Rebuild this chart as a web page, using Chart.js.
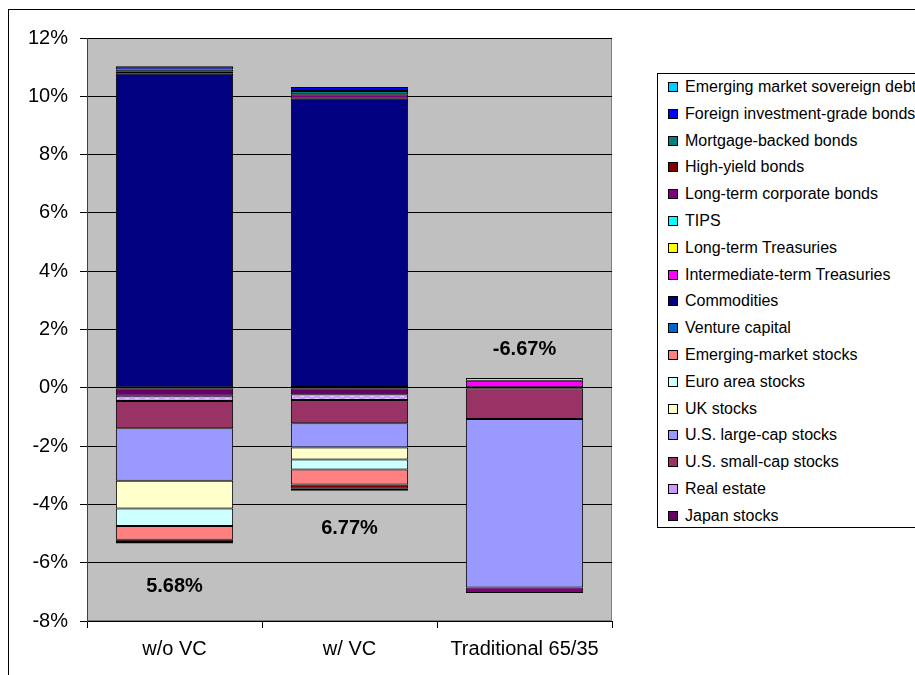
<!DOCTYPE html>
<html>
<head>
<meta charset="utf-8">
<script src="https://cdn.jsdelivr.net/npm/chart.js@4.4.1/dist/chart.umd.min.js"></script>
<style>
  html, body { margin: 0; padding: 0; background: #fff; overflow: hidden; }
  #wrap { position: relative; width: 915px; height: 675px; overflow: hidden; font-family: "Liberation Sans", Arial, sans-serif; }
  #frame { position: absolute; left: 8px; top: 9px; width: 1000px; height: 700px; border-left: 1px solid #000; border-top: 1px solid #000; }
  canvas { position: absolute; left: 0; top: 0; }
  #legend { position: absolute; left: 657px; top: 73px; width: 300px; height: 453px; border: 1px solid #000; background: #fff; }
  .item { position: absolute; left: 0; height: 20px; font-size: 16px; line-height: 20px; color: #000; white-space: nowrap; }
  .sw { position: absolute; left: 10px; top: 5px; width: 8px; height: 8px; border: 1px solid #000; }
  .txt { position: absolute; left: 27px; top: 0; }
</style>
</head>
<body>
<div id="wrap">
  <div id="frame"></div>
  <canvas id="chart" width="915" height="675"></canvas>
  <div id="legend"></div>
</div>
<script>
// categories and series (Excel series order, first = bottom of stack)
const categories = ["w/o VC", "w/ VC", "Traditional 65/35"];

const seriesNames = [
  "Japan stocks", "Real estate", "U.S. small-cap stocks", "U.S. large-cap stocks",
  "UK stocks", "Euro area stocks", "Emerging-market stocks", "Venture capital",
  "Commodities", "Intermediate-term Treasuries", "Long-term Treasuries", "TIPS",
  "Long-term corporate bonds", "High-yield bonds", "Mortgage-backed bonds",
  "Foreign investment-grade bonds", "Emerging market sovereign debt"
];

// values in %, per category
const japanStocks = [-0.27, -0.22, null];
const realEstate = [-0.18, -0.20, null];
const usSmallCap = [-0.94, -0.80, -1.07];
const usLargeCap = [-1.80, -0.83, -5.78];
const ukStocks = [-0.95, -0.41, null];
const euroStocks = [-0.60, -0.34, null];
const emStocks = [-0.47, -0.52, null];
const ventureCapital = [null, 0.03, null];
const commodities = [10.77, 9.89, null];
const intTreasuries = [null, null, 0.24];
const ltTreasuries = [null, null, 0.10];
const tips = [null, null, null];
const ltCorporate = [0.07, 0.15, -0.19];
const highYield = [-0.08, -0.14, null];
const mortgageBacked = [0.08, 0.11, null];
const foreignIG = [0.11, 0.14, null];
const emSovereign = [-0.05, -0.07, null];

const yTicks = [-8, -6, -4, -2, 0, 2, 4, 6, 8, 10, 12];

// text written on the plot, anchored at a value on the y scale
const noteTexts = ["5.68%", "6.77%", "-6.67%"];
const noteValues = [-6.81, -4.82, 1.33];

const seriesValues = [
  japanStocks, realEstate, usSmallCap, usLargeCap, ukStocks, euroStocks, emStocks,
  ventureCapital, commodities, intTreasuries, ltTreasuries, tips, ltCorporate,
  highYield, mortgageBacked, foreignIG, emSovereign
];

const seriesColors = [
  "#660066", "#CC99FF", "#993366", "#9999FF", "#FFFFCC", "#CCFFFF", "#FF8080",
  "#0066CC", "#000080", "#FF00FF", "#FFFF00", "#00FFFF", "#800080", "#800000",
  "#008080", "#0000FF", "#00CCFF"
];

function makePattern(base, dot, w, h, drawDot) {
  const c = document.createElement("canvas");
  c.width = w; c.height = h;
  const g = c.getContext("2d");
  g.fillStyle = base;
  g.fillRect(0, 0, w, h);
  g.fillStyle = dot;
  drawDot(g);
  return document.getElementById("chart").getContext("2d").createPattern(c, "repeat");
}

const japanPattern = makePattern("#660066", "#F0E0F0", 15, 8, g => g.fillRect(7, 3, 2, 2));
const realEstatePattern = makePattern("#CC99FF", "#E6CCFF", 10, 4, g => { g.fillRect(0, 0, 4, 1); g.fillRect(5, 2, 4, 1); });

const fills = seriesColors.slice();
fills[0] = japanPattern;
fills[1] = realEstatePattern;

const datasets = seriesNames.map((name, i) => ({
  label: name,
  data: seriesValues[i],
  backgroundColor: fills[i],
  borderColor: "#000",
  borderWidth: 1,
  borderSkipped: false,
  barPercentage: 0.67,
  categoryPercentage: 1
}));

// legend, top of stack first like Excel
const legend = document.getElementById("legend");
for (let k = 0; k < seriesNames.length; k++) {
  const i = seriesNames.length - 1 - k;
  const item = document.createElement("div");
  item.className = "item";
  item.style.top = (3 + k * 26.8) + "px";
  item.innerHTML = '<span class="sw" style="background:' + seriesColors[i] + '"></span><span class="txt">' + seriesNames[i] + '</span>';
  legend.appendChild(item);
}

const plotBack = {
  id: "plotBack",
  beforeDraw(chart) {
    const { ctx, chartArea: a } = chart;
    ctx.save();
    ctx.fillStyle = "#C0C0C0";
    ctx.fillRect(a.left, a.top, a.right - a.left, a.bottom - a.top);
    ctx.strokeStyle = "#808080";
    ctx.lineWidth = 1;
    ctx.strokeRect(a.left + 0.5, a.top + 0.5, a.right - a.left - 1, a.bottom - a.top - 1);
    ctx.restore();
  }
};

const notes = {
  id: "notes",
  afterDatasetsDraw(chart) {
    const { ctx, scales } = chart;
    ctx.save();
    ctx.font = "bold 20px 'Liberation Sans', Arial, sans-serif";
    ctx.fillStyle = "#000";
    ctx.textAlign = "center";
    ctx.textBaseline = "middle";
    noteTexts.forEach((t, i) => {
      ctx.fillText(t, scales.x.getPixelForValue(i), scales.y.getPixelForValue(noteValues[i]));
    });
    ctx.restore();
  }
};

Chart.defaults.font.family = "'Liberation Sans', Arial, sans-serif";
Chart.defaults.color = "#000";

new Chart(document.getElementById("chart"), {
  type: "bar",
  data: { labels: categories, datasets: datasets },
  options: {
    responsive: false,
    animation: false,
    devicePixelRatio: 1,
    layout: { padding: { left: 0, top: 38, right: 303, bottom: 0 } },
    plugins: { legend: { display: false }, tooltip: { enabled: false } },
    scales: {
      x: {
        stacked: true,
        grid: { display: true, drawOnChartArea: false, drawTicks: true, tickLength: 7, color: "#000", offset: true },
        border: { display: true, color: "#000" },
        ticks: { font: { size: 20 }, padding: 9, color: "#000" },
        afterFit(s) { s.height = 54; }
      },
      y: {
        stacked: true,
        min: -8,
        max: 12,
        afterBuildTicks(s) { s.ticks = yTicks.map(v => ({ value: v })); },
        grid: { color: "#000", tickLength: 7, drawTicks: true },
        border: { display: true, color: "#404040" },
        ticks: { font: { size: 20 }, padding: 12, color: "#000", callback: v => v + "%" },
        afterFit(s) { s.width = 87; }
      }
    }
  },
  plugins: [plotBack, notes]
});
</script>
</body>
</html>
